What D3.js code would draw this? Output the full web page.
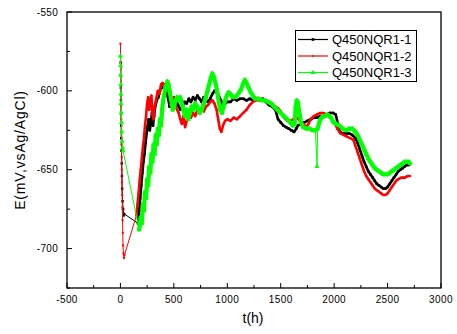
<!DOCTYPE html>
<html>
<head>
<meta charset="utf-8">
<script src="https://cdn.jsdelivr.net/npm/d3@7"></script>
<style>
  html, body { margin: 0; padding: 0; background: #fff; }
  svg { display: block; }
  text { font-family: Arial, "Liberation Sans", sans-serif; }
</style>
</head>
<body>
<script>
// Open-circuit potential vs time, three specimens: [t (h), E (mV vs Ag/AgCl)]
const seriesNames = ["Q450NQR1-1", "Q450NQR1-2", "Q450NQR1-3"];
const seriesColors = ["#000000", "#ff0000", "#00ff00"];

const sample1 = [
  [2,-582],[3,-590],[4,-598],[5,-606],[6,-614],[7,-622],[8,-630],[10,-638],[12,-646],[14,-654],[16,-662],[20,-670],[25,-675],[30,-679],[35,-678],
  [165,-684],[175,-676],[185,-668],[195,-660],[205,-652],[215,-645],[225,-640],[235,-633],[245,-627],[255,-622],[265,-618],[275,-625],[285,-620],
  [295,-614],[305,-622],[315,-616],[325,-610],[340,-606],[355,-604],[370,-600],[385,-597],[400,-598],[415,-596],[430,-600],[445,-604],[460,-610],
  [475,-608],[490,-612],[505,-610],[520,-606],[540,-609],[560,-612],[580,-610],[600,-607],[620,-608],[640,-605],[660,-607],[680,-604],[700,-606],
  [720,-603],[740,-605],[760,-607],[780,-604],[800,-606],[820,-607],[840,-605],[860,-602],[880,-600],[900,-601],[920,-603],[940,-606],[960,-609],
  [980,-608],[1000,-607],[1030,-607],[1060,-605],[1090,-606],[1120,-605],[1150,-605],[1180,-606],[1210,-605],[1240,-606],[1270,-605],[1300,-606],
  [1330,-605],[1360,-607],[1390,-609],[1420,-610],[1450,-612],[1475,-618],[1500,-620],[1525,-622],[1550,-623],[1575,-624],[1600,-625],[1625,-626],
  [1645,-624],[1660,-622],[1690,-621],[1720,-620],[1750,-619],[1780,-618],[1810,-617],[1840,-617],[1870,-616],[1900,-616],[1930,-615],[1960,-614],
  [1990,-614],[2015,-615],[2035,-621],[2055,-626],[2080,-627],[2110,-627],[2140,-627],[2170,-628],[2200,-630],[2220,-633],[2240,-637],[2260,-641],
  [2280,-645],[2300,-648],[2320,-651],[2340,-653],[2360,-655],[2380,-657],[2400,-659],[2420,-660],[2440,-661],[2460,-662],[2480,-662],[2500,-661],
  [2520,-659],[2540,-657],[2560,-655],[2580,-653],[2600,-651],[2620,-650],[2640,-649],[2660,-648],[2680,-647],[2700,-647]
];

const sample2 = [
  [0,-570],[2,-578],[4,-586],[5,-594],[6,-602],[7,-610],[8,-618],[9,-626],[10,-634],[12,-642],[13,-650],[14,-658],[16,-666],[18,-674],[20,-682],
  [22,-690],[24,-698],[28,-703],[33,-706],[38,-704],
  [150,-679],[160,-672],[170,-665],[180,-657],[190,-650],[200,-643],[210,-636],[220,-630],[230,-622],[240,-616],[250,-608],[260,-604],[270,-612],
  [280,-606],[290,-603],[300,-615],[310,-618],[320,-610],[335,-605],[350,-600],[365,-602],[380,-596],[395,-595],[410,-598],[425,-596],[440,-600],
  [455,-598],[470,-603],[485,-606],[500,-604],[515,-609],[530,-612],[545,-614],[560,-618],[575,-621],[590,-616],[605,-623],[620,-619],[640,-614],
  [660,-617],[680,-614],[700,-616],[720,-612],[740,-614],[760,-611],[780,-613],[800,-610],[820,-609],[840,-607],[860,-606],[880,-608],[900,-612],
  [915,-618],[930,-624],[945,-626],[960,-622],[980,-619],[1000,-618],[1030,-619],[1060,-617],[1090,-618],[1120,-616],[1150,-614],[1180,-612],
  [1210,-609],[1240,-607],[1270,-606],[1300,-606],[1330,-605],[1360,-606],[1390,-607],[1420,-608],[1450,-610],[1475,-611],[1500,-613],[1530,-617],
  [1560,-619],[1590,-619],[1620,-618],[1650,-617],[1680,-619],[1710,-621],[1740,-623],[1760,-621],[1780,-618],[1810,-616],[1840,-615],[1870,-614],
  [1900,-614],[1930,-615],[1960,-616],[1990,-619],[2010,-621],[2030,-624],[2060,-627],[2090,-628],[2120,-629],[2150,-630],[2180,-631],[2200,-635],
  [2220,-639],[2240,-643],[2260,-647],[2280,-651],[2300,-654],[2320,-656],[2340,-658],[2360,-660],[2380,-662],[2400,-663],[2420,-664],[2440,-665],
  [2460,-666],[2480,-666],[2500,-665],[2520,-663],[2540,-661],[2560,-659],[2580,-657],[2600,-656],[2630,-655],[2660,-655],[2690,-654],[2710,-654]
];

const sample3 = [
  [0,-578],[2,-584],[3,-590],[4,-596],[5,-602],[6,-608],[8,-614],[10,-620],[13,-626],[16,-632],[20,-636],[25,-638],
  [175,-688],[180,-686],[190,-680],[200,-684],[210,-672],[220,-676],[230,-664],[240,-668],[250,-656],[260,-660],[270,-648],[280,-652],[290,-640],
  [300,-645],[310,-634],[320,-640],[330,-628],[340,-634],[350,-624],[360,-628],[370,-618],[380,-622],[390,-612],[400,-606],[410,-602],[420,-598],
  [430,-596],[440,-594],[450,-596],[460,-600],[470,-604],[480,-608],[490,-612],[500,-610],[515,-606],[530,-604],[545,-606],[560,-604],[575,-608],
  [590,-612],[605,-616],[620,-612],[635,-618],[650,-614],[665,-610],[680,-612],[700,-608],[720,-610],[740,-614],[760,-612],[780,-608],[800,-604],
  [815,-600],[830,-596],[845,-592],[860,-589],[875,-591],[890,-595],[905,-600],[920,-607],[935,-612],[950,-614],[965,-610],[980,-606],[995,-603],
  [1010,-601],[1030,-602],[1050,-604],[1070,-604],[1090,-603],[1110,-601],[1130,-599],[1150,-595],[1165,-593],[1180,-595],[1200,-598],[1220,-601],
  [1240,-603],[1260,-605],[1290,-605],[1320,-606],[1350,-606],[1380,-607],[1410,-608],[1440,-610],[1470,-612],[1500,-614],[1530,-616],[1560,-618],
  [1590,-620],[1615,-622],[1630,-621],[1640,-610],[1650,-606],[1660,-607],[1675,-614],[1690,-620],[1710,-623],[1740,-624],[1770,-624],[1800,-625],
  [1825,-625],[1840,-648],[1845,-624],[1860,-620],[1880,-617],[1910,-616],[1940,-615],[1970,-617],[1995,-620],[2020,-621],[2050,-622],[2080,-624],
  [2110,-625],[2140,-624],[2170,-624],[2200,-626],[2220,-628],[2240,-631],[2260,-634],[2280,-637],[2300,-640],[2320,-643],[2340,-645],[2360,-647],
  [2380,-649],[2400,-650],[2420,-651],[2440,-652],[2460,-653],[2480,-653],[2500,-653],[2520,-652],[2540,-651],[2560,-650],[2580,-649],[2600,-648],
  [2620,-647],[2640,-646],[2660,-645],[2680,-645],[2700,-645],[2710,-646]
];

const xTicks = [-500, 0, 500, 1000, 1500, 2000, 2500, 3000];
const yTicks = [-700, -650, -600, -550];
const xLabel = "t(h)";
const yLabel = "E(mV,vsAg/AgCl)";

const W = 457, H = 334;
const plot = { left: 67, right: 441, top: 12, bottom: 288 };

const svg = d3.select("body").append("svg").attr("width", W).attr("height", H);

const x = d3.scaleLinear().domain([-500, 3000]).range([plot.left, plot.right]);
const y = d3.scaleLinear().domain([-725, -550]).range([plot.bottom, plot.top]);

svg.append("defs").append("clipPath").attr("id", "plotClip")
  .append("rect").attr("x", plot.left).attr("y", plot.top)
  .attr("width", plot.right - plot.left).attr("height", plot.bottom - plot.top);

// inward ticks, major and minor
const xMinor = d3.range(-250, 3000, 500);
const yMinor = d3.range(-725, -550, 50);
const tickG = svg.append("g").attr("stroke", "#000").attr("stroke-width", 1);
xTicks.forEach(v => tickG.append("line").attr("x1", x(v)).attr("x2", x(v)).attr("y1", plot.bottom).attr("y2", plot.bottom - 5));
xMinor.forEach(v => tickG.append("line").attr("x1", x(v)).attr("x2", x(v)).attr("y1", plot.bottom).attr("y2", plot.bottom - 3));
yTicks.forEach(v => tickG.append("line").attr("x1", plot.left).attr("x2", plot.left + 5).attr("y1", y(v)).attr("y2", y(v)));
yMinor.forEach(v => tickG.append("line").attr("x1", plot.left).attr("x2", plot.left + 3).attr("y1", y(v)).attr("y2", y(v)));

svg.append("g").selectAll("text").data(xTicks).join("text")
  .attr("x", d => x(d)).attr("y", plot.bottom + 15)
  .attr("text-anchor", "middle").attr("font-size", 10).attr("letter-spacing", 0.4)
  .text(d => d);
svg.append("g").selectAll("text").data(yTicks).join("text")
  .attr("x", plot.left - 9).attr("y", d => y(d) + 3.5)
  .attr("text-anchor", "end").attr("font-size", 10).attr("letter-spacing", 0.3)
  .text(d => d);

svg.append("text").attr("x", 253).attr("y", 323).attr("text-anchor", "middle")
  .attr("font-size", 14).text(xLabel);
svg.append("text").attr("transform", "translate(25,150) rotate(-90)")
  .attr("text-anchor", "middle").attr("font-size", 14).attr("letter-spacing", 0.8)
  .text(yLabel);

// split a series into densely logged stretches; pauses, sudden jumps and the
// first few hours after immersion are left as a thin line
function runs(s) {
  const out = [];
  let cur = [];
  for (let k = 0; k < s.length; k++) {
    const p = s[k], q = s[k - 1];
    const brk = !q || p[0] - q[0] > 60 || Math.abs(p[1] - q[1]) > 15 || p[0] < 100;
    if (brk && cur.length) { out.push(cur); cur = []; }
    if (p[0] >= 100) cur.push(p);
  }
  if (cur.length) out.push(cur);
  return out.filter(r => r.length > 1);
}

const line = d3.line().x(d => x(d[0])).y(d => y(d[1]));
const bandWidth = [2.6, 2.6, 4.2];
const symbols = [
  d3.symbol().type(d3.symbolSquare).size(6),
  d3.symbol().type(d3.symbolSquare).size(4),
  d3.symbol().type(d3.symbolTriangle).size(11)
];
const allSeries = [sample1, sample2, sample3];
const dataG = svg.append("g").attr("clip-path", "url(#plotClip)");
allSeries.forEach((s, i) => {
  const g = dataG.append("g");
  g.append("path").datum(s).attr("d", line)
    .attr("fill", "none").attr("stroke", seriesColors[i]).attr("stroke-width", 1);
  runs(s).forEach(r => {
    g.append("path").datum(r).attr("d", line)
      .attr("fill", "none").attr("stroke", seriesColors[i]).attr("stroke-width", bandWidth[i])
      .attr("stroke-linejoin", "round").attr("stroke-linecap", "round");
  });
  g.selectAll("path.m").data(s).join("path").attr("class", "m")
    .attr("transform", d => `translate(${x(d[0])},${y(d[1])})`)
    .attr("d", symbols[i]).attr("fill", seriesColors[i]);
});

svg.append("rect").attr("x", plot.left).attr("y", plot.top)
  .attr("width", plot.right - plot.left).attr("height", plot.bottom - plot.top)
  .attr("fill", "none").attr("stroke", "#000").attr("stroke-width", 1.3);

// legend
const leg = svg.append("g");
leg.append("rect").attr("x", 295.5).attr("y", 30.5).attr("width", 121).attr("height", 51)
  .attr("fill", "#fff").attr("stroke", "#000").attr("stroke-width", 1);
const legY = [39.5, 56, 72.5];
const legSymbols = [
  d3.symbol().type(d3.symbolSquare).size(7),
  d3.symbol().type(d3.symbolSquare).size(3),
  d3.symbol().type(d3.symbolTriangle).size(10)
];
seriesNames.forEach((name, i) => {
  leg.append("line").attr("x1", 298).attr("x2", 328).attr("y1", legY[i]).attr("y2", legY[i])
    .attr("stroke", seriesColors[i]).attr("stroke-width", 1.2);
  leg.append("path").attr("transform", `translate(313,${legY[i]})`)
    .attr("d", legSymbols[i]).attr("fill", seriesColors[i]);
  leg.append("text").attr("x", 332).attr("y", legY[i] + 4.5).attr("font-size", 13)
    .text(name);
});
</script>
</body>
</html>
